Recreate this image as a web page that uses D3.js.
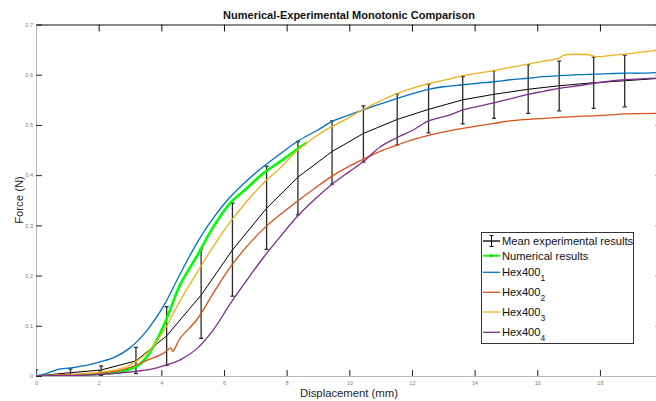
<!DOCTYPE html>
<html>
<head>
<meta charset="utf-8">
<title>Numerical-Experimental Monotonic Comparison</title>
<script src="https://d3js.org/d3.v7.min.js"></script>
<style>
  body { margin: 0; background: #fff; }
  svg { display: block; font-family: "Liberation Sans", Arial, sans-serif; }
</style>
</head>
<body>
<svg id="chart" width="656" height="401"></svg>
<script>
// mean experimental curve + error bars (displacement mm, force N)
const meanMm    = [0, 1.1, 2.08, 3.19, 4.17, 5.27, 6.27, 7.36, 8.36, 9.45, 10.45, 11.53, 12.53, 13.62, 14.62, 15.71, 16.70, 17.80, 18.79, 19.95];
const meanForce = [0, 0.0066, 0.012, 0.030, 0.080, 0.161, 0.251, 0.334, 0.396, 0.447, 0.483, 0.511, 0.531, 0.550, 0.561, 0.571, 0.578, 0.584, 0.588, 0.593];
const errLow    = [0, 0.002, 0.001, 0.005, 0.021, 0.075, 0.159, 0.252, 0.321, 0.382, 0.426, 0.460, 0.484, 0.502, 0.513, 0.523, 0.528, 0.533, 0.536, null];
const errHigh   = [0.012, 0.014, 0.020, 0.057, 0.138, 0.252, 0.344, 0.418, 0.467, 0.508, 0.538, 0.562, 0.581, 0.596, 0.608, 0.620, 0.627, 0.635, 0.639, null];

// numerical results
const numMm    = [0, 1.0, 2.0, 2.8, 3.21, 3.5, 3.74, 4.06, 4.3, 4.6, 5.13, 5.66, 6.19, 6.73, 7.26, 7.79, 8.3, 8.64];
const numForce = [0, 0.001, 0.004, 0.010, 0.019, 0.035, 0.058, 0.098, 0.135, 0.182, 0.238, 0.297, 0.344, 0.374, 0.404, 0.427, 0.450, 0.465];

// Hex400 specimens
const hex1Mm = [0, 0.3, 0.7, 1.1, 1.6, 2.04, 2.5, 3.0, 3.53, 4.06, 4.6, 5.13, 5.66, 6.19, 6.73, 7.26, 7.79, 8.36, 9.0, 9.45, 10.0, 10.45, 11.0, 11.53, 12.0, 12.53, 13.0, 13.62, 14.1, 14.62, 15.13, 15.7, 16.2, 16.7, 17.3, 17.8, 18.3, 18.79, 19.3, 20];
const hex1F  = [0, 0.004, 0.013, 0.016, 0.021, 0.028, 0.037, 0.056, 0.090, 0.138, 0.203, 0.264, 0.315, 0.356, 0.389, 0.417, 0.442, 0.468, 0.490, 0.507, 0.520, 0.530, 0.542, 0.553, 0.562, 0.571, 0.576, 0.580, 0.583, 0.586, 0.590, 0.593, 0.596, 0.598, 0.600, 0.601, 0.602, 0.603, 0.603, 0.605];

const hex2Mm = [0, 1.0, 2.0, 2.6, 3.0, 3.5, 4.06, 4.3, 4.36, 4.6, 5.13, 5.66, 6.19, 6.73, 7.26, 7.79, 8.36, 8.9, 9.45, 10.0, 10.45, 11.0, 11.53, 12.0, 12.53, 13.1, 13.62, 14.1, 14.62, 15.13, 15.7, 16.2, 16.7, 17.3, 17.8, 18.3, 18.79, 20];
const hex2F  = [0, 0.003, 0.006, 0.010, 0.017, 0.030, 0.045, 0.056, 0.049, 0.075, 0.112, 0.165, 0.216, 0.258, 0.293, 0.321, 0.349, 0.374, 0.398, 0.418, 0.432, 0.448, 0.460, 0.470, 0.479, 0.487, 0.493, 0.498, 0.503, 0.508, 0.511, 0.513, 0.515, 0.517, 0.518, 0.520, 0.522, 0.523];

const hex3Mm = [0, 1.0, 2.0, 2.6, 3.0, 3.53, 4.06, 4.6, 5.13, 5.66, 6.19, 6.73, 7.26, 7.79, 8.36, 8.9, 9.45, 10.0, 10.45, 11.0, 11.53, 12.0, 12.53, 13.1, 13.62, 14.1, 14.62, 15.1, 15.7, 16.2, 16.7, 16.85, 17.7, 17.85, 18.3, 18.79, 19.3, 20];
const hex3F  = [0, 0.002, 0.007, 0.013, 0.022, 0.045, 0.088, 0.150, 0.205, 0.258, 0.306, 0.348, 0.384, 0.414, 0.450, 0.476, 0.497, 0.515, 0.531, 0.548, 0.563, 0.573, 0.582, 0.590, 0.598, 0.603, 0.608, 0.614, 0.621, 0.627, 0.633, 0.639, 0.639, 0.636, 0.638, 0.641, 0.645, 0.650];

const hex4Mm = [0, 1.0, 2.0, 3.0, 3.64, 4.06, 4.6, 5.13, 5.66, 6.19, 6.73, 7.26, 7.79, 8.36, 8.9, 9.45, 10.0, 10.45, 10.98, 11.53, 12.04, 12.53, 13.11, 13.3, 13.62, 14.1, 14.62, 15.13, 15.7, 16.2, 16.7, 17.3, 17.8, 18.3, 18.79, 20];
const hex4F  = [0, 0.001, 0.003, 0.008, 0.013, 0.020, 0.032, 0.054, 0.092, 0.143, 0.191, 0.236, 0.277, 0.319, 0.352, 0.382, 0.407, 0.427, 0.456, 0.475, 0.490, 0.508, 0.518, 0.522, 0.530, 0.537, 0.544, 0.552, 0.561, 0.567, 0.573, 0.578, 0.583, 0.587, 0.590, 0.594];

const xTicks = [0, 2, 4, 6, 8, 10, 12, 14, 16, 18];
const yTicks = [0, 0.1, 0.2, 0.3, 0.4, 0.5, 0.6, 0.7];

const legendNames = ["Mean experimental results", "Numerical results", "Hex400", "Hex400", "Hex400", "Hex400"];
const legendSubs  = ["", "", "1", "2", "3", "4"];

const svg = d3.select("#chart");
const x = d3.scaleLinear().domain([0, 20]).range([36, 662.6]);
const y = d3.scaleLinear().domain([0, 0.7]).range([376, 24.5]);

// clip to plot box
svg.append("defs").append("clipPath").attr("id", "plotclip")
  .append("rect").attr("x", x(0)).attr("y", y(0.7))
  .attr("width", x(20) - x(0)).attr("height", y(0) - y(0.7));

// axes
const tickFont = g => g.selectAll("text").attr("font-size", "5.6px").attr("fill", "#808080")
  .attr("font-family", "Liberation Sans, Arial, sans-serif");

const gx = svg.append("g").attr("transform", `translate(0,${y(0)})`)
  .call(d3.axisBottom(x).tickValues(xTicks).tickSizeInner(-6).tickSizeOuter(0).tickPadding(5).tickFormat(d3.format("d")));
gx.select(".domain").attr("stroke", "#b8b8b8");
gx.selectAll(".tick line").attr("stroke", "#222");
gx.call(tickFont);

const gy = svg.append("g").attr("transform", `translate(${x(0)},0)`)
  .call(d3.axisLeft(y).tickValues(yTicks).tickSizeInner(-6).tickSizeOuter(0).tickPadding(3).tickFormat(d => d === 0 ? "0" : d3.format(".1f")(d)));
gy.select(".domain").attr("stroke", "#b8b8b8");
gy.selectAll(".tick line").attr("stroke", "#222");
gy.call(tickFont);

const gt = svg.append("g").attr("transform", `translate(0,${y(0.7)})`)
  .call(d3.axisTop(x).tickValues(xTicks.slice(1)).tickSizeInner(-7).tickSizeOuter(0).tickFormat(""));
gt.select(".domain").attr("stroke", "#111");
gt.selectAll(".tick line").attr("stroke", "#111");

const gr = svg.append("g").attr("transform", `translate(${x(20) - 1},0)`)
  .call(d3.axisRight(y).tickValues(yTicks.slice(1)).tickSizeInner(-6).tickSizeOuter(0).tickFormat(""));
gr.select(".domain").attr("stroke", "#111");
gr.selectAll(".tick line").attr("stroke", "#111");

// titles
svg.append("text").attr("x", 349).attr("y", 19).attr("text-anchor", "middle")
  .attr("font-size", "11px").attr("font-weight", "bold").attr("fill", "#111")
  .text("Numerical-Experimental Monotonic Comparison");
svg.append("text").attr("x", 349).attr("y", 397).attr("text-anchor", "middle")
  .attr("font-size", "11.3px").attr("fill", "#262626").text("Displacement (mm)");
svg.append("text").attr("transform", "translate(23,200) rotate(-90)").attr("text-anchor", "middle")
  .attr("font-size", "11.3px").attr("fill", "#262626").text("Force (N)");

// curves
const plot = svg.append("g").attr("clip-path", "url(#plotclip)");
const lin = d3.line().x(d => x(d[0])).y(d => y(d[1]));
const smooth = d3.line().x(d => x(d[0])).y(d => y(d[1])).curve(d3.curveCatmullRom.alpha(0.5));

const meanPts = d3.zip(meanMm, meanForce);
plot.append("path").datum(meanPts).attr("d", lin)
  .attr("fill", "none").attr("stroke", "#000").attr("stroke-width", 1);

const bars = plot.append("g").attr("stroke", "#2a2a2a").attr("stroke-width", 1.3);
meanMm.forEach((m, i) => {
  if (errLow[i] == null) return;
  const px = x(m);
  bars.append("line").attr("x1", px).attr("x2", px).attr("y1", y(errLow[i])).attr("y2", y(errHigh[i]));
  bars.append("line").attr("x1", px - 2).attr("x2", px + 2).attr("y1", y(errLow[i])).attr("y2", y(errLow[i]));
  bars.append("line").attr("x1", px - 2).attr("x2", px + 2).attr("y1", y(errHigh[i])).attr("y2", y(errHigh[i]));
});

plot.append("path").datum(d3.zip(numMm, numForce)).attr("d", smooth)
  .attr("fill", "none").attr("stroke", "#00ff00").attr("stroke-width", 2.6);

const hexSeries = [
  { mm: hex1Mm, f: hex1F, color: "#0072BD" },
  { mm: hex2Mm, f: hex2F, color: "#D95319" },
  { mm: hex3Mm, f: hex3F, color: "#EDB120" },
  { mm: hex4Mm, f: hex4F, color: "#7E2F8E" }
];
hexSeries.forEach(s => {
  plot.append("path").datum(d3.zip(s.mm, s.f)).attr("d", smooth)
    .attr("fill", "none").attr("stroke", s.color).attr("stroke-width", 1.3);
});

// legend
const leg = svg.append("g");
leg.append("rect").attr("x", 481.5).attr("y", 232.5).attr("width", 152).attr("height", 111)
  .attr("fill", "#fff").attr("stroke", "#333").attr("stroke-width", 1);
const rowY = [241, 255.7, 272.3, 292.3, 312, 332.3];
const legColors = ["#000", "#00ff00"].concat(hexSeries.map(s => s.color));
rowY.forEach((ry, i) => {
  leg.append("line").attr("x1", 483).attr("x2", 500).attr("y1", ry).attr("y2", ry)
    .attr("stroke", legColors[i]).attr("stroke-width", i === 1 ? 2 : 1.3);
  if (i === 0) {
    leg.append("line").attr("x1", 491.5).attr("x2", 491.5).attr("y1", ry - 5.5).attr("y2", ry + 5.5).attr("stroke", "#000");
    leg.append("line").attr("x1", 489.5).attr("x2", 493.5).attr("y1", ry - 5.5).attr("y2", ry - 5.5).attr("stroke", "#000");
    leg.append("line").attr("x1", 489.5).attr("x2", 493.5).attr("y1", ry + 5.5).attr("y2", ry + 5.5).attr("stroke", "#000");
  }
  if (i === 1) {
    leg.append("circle").attr("cx", 491.5).attr("cy", ry).attr("r", 1.2).attr("fill", "#00aa00");
  }
  const t = leg.append("text").attr("x", 502).attr("y", ry + 4).attr("font-size", "11.2px").attr("fill", "#111");
  t.append("tspan").text(legendNames[i]);
  if (legendSubs[i]) t.append("tspan").attr("dy", 5).attr("font-size", "8.5px").text(legendSubs[i]);
});
</script>
</body>
</html>
